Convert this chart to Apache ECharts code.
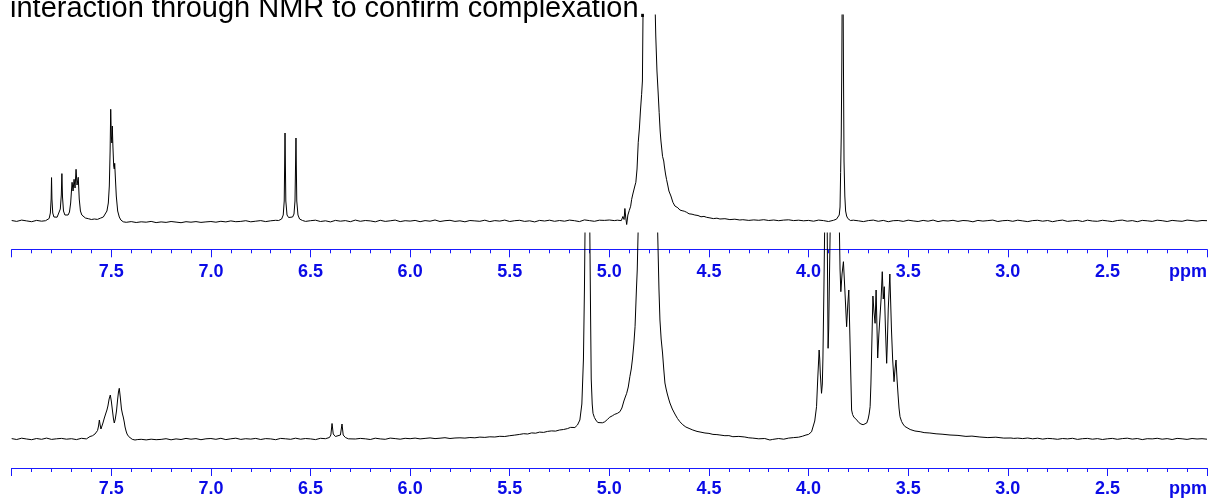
<!DOCTYPE html>
<html><head><meta charset="utf-8">
<script src="https://cdn.jsdelivr.net/npm/echarts@6/dist/echarts.min.js"></script>
<style>html,body{margin:0;padding:0;background:#fff;}#c{width:1210px;height:498px;}</style>
</head><body><div id="c"></div>
<script>
const titleText = 'interaction through NMR to confirm complexation.';
const axisUnit = 'ppm';
const ppmMin = 2, ppmMax = 8, ppmInterval = 0.5;
const noiseStep = 0.025;

// baseline noise (px above baseline) every 0.025 ppm from 8.0 down to 2.0
const topNoise = [
0.5,-0.4,0.9,0.1,-0.7,0.6,-0.2,0.8,-0.5,0.2,
-0.3,0.7,-0.6,0.4,0.9,-0.1,-0.8,0.5,0.3,-0.6,
0.4,-0.9,0.2,-1.3,-0.6,-1.5,-0.8,-1.2,-0.4,-1.6,
-0.9,-1.4,-0.5,-1.1,-1.7,-0.7,-1.2,-0.6,-1.4,-0.9,
-0.5,-1.2,-0.3,-0.9,0.1,-0.7,-0.4,0.3,-0.8,-0.2,
0.4,-0.6,0.2,0.7,-0.3,0.5,-0.5,0.1,0.6,-0.4,
0.3,0.8,-0.5,0.2,-0.9,0.6,-0.2,0.4,-0.7,0.9,
-0.3,0.5,0.1,-0.8,0.7,-0.4,0.2,0.9,-0.6,0.3,
-0.1,0.6,-0.7,0.4,-0.2,1.0,-0.5,0.3,0.7,-0.4,
0.2,-0.8,0.5,0.1,-0.3,0.8,-0.6,0.4,-0.1,0.9,
-0.5,0.3,0.7,-0.4,0.2,-0.9,0.6,0.0,0.8,-0.3,
0.5,-0.2,0.9,0.3,-0.6,1.1,0.4,-0.3,0.8,0.6,
1.0,0.4,-0.2,0.6,0.3,0.1,0.5,-0.4,0.2,0.7,
0.3,0.1,-0.2,0.4,0.6,0.2,-0.3,0.5,0.1,0.4,
0.2,0.6,0.9,1.2,0.8,1.5,0.9,1.3,0.6,1.1,
0.7,1.3,0.5,1.0,0.3,0.9,1.2,0.4,0.8,0.2,
0.6,-0.2,0.9,0.4,-0.5,0.7,0.1,0.5,-0.3,0.8,
0.2,-0.6,0.4,0.9,-0.3,0.6,-0.7,0.3,0.5,-0.4,
0.8,0.1,-0.5,0.6,-0.2,0.9,-0.6,0.4,0.0,0.7,
-0.4,0.5,0.2,-0.8,0.6,-0.1,0.4,0.9,-0.5,0.3,
0.6,-0.3,0.8,0.1,-0.6,0.4,0.7,-0.2,0.5,-0.7,
0.3,0.9,-0.4,0.2,0.6,-0.5,0.8,0.0,-0.3,0.7,
0.1,-0.6,0.5,0.9,-0.2,0.4,-0.7,0.6,0.2,-0.4,
0.8,0.3,-0.5,0.6,0.1,-0.3,0.9,0.4,-0.2,0.5,
0.3];

const bottomNoise = [
0.4,-0.5,0.8,0.0,-0.7,0.5,-0.3,0.9,-0.4,0.2,
0.6,-0.2,0.3,-0.6,0.7,0.1,-0.4,0.5,1.0,0.8,
0.3,0.1,-0.8,-1.2,-0.5,-1.0,-0.3,-0.9,-0.2,-0.7,
-0.4,0.3,-0.8,0.1,-0.5,0.6,-0.2,0.4,-0.7,0.2,
0.5,-0.3,0.7,-0.6,0.2,0.8,-0.4,0.3,-0.1,0.6,
-0.5,0.4,0.1,-0.7,0.6,0.2,-0.3,0.8,-0.2,0.5,
0.1,-0.6,0.7,0.3,0.5,0.2,0.4,-0.4,0.6,0.0,
0.6,0.2,-0.5,0.8,0.1,-0.3,0.9,0.4,-0.2,0.7,
0.3,0.9,0.1,0.6,1.1,0.4,0.8,1.3,0.5,1.0,
1.2,0.9,1.5,1.2,1.9,1.6,2.2,2.0,2.7,2.5,
3.3,3.9,7,7,7,7,7,7,7,7,
7,7,7,7,7,7,7,7,7,7,
7,7,7,7,7,7,7,7,7,7,
7,7,7,7,7,7,7,7,7,7,
7,7,7,7,7,7,7,7,7,7,
0,0,0,-0.6,0.5,-0.2,0.9,1.4,1.8,2.5,
7,7,7,7,7,7,7,7,7,7,
7,7,7,7,7,7,7,7,7,7,
7,7,7,7,7,7,7,7,7,7,
7,7,7,7,7,7,7,7,7,7,
0,0,0.9,0.4,1.0,0.2,0.8,-0.1,0.6,0.3,
-0.3,0.5,0.1,0.7,-0.4,0.3,0.6,-0.2,0.4,-0.5,
0.2,0.6,-0.3,0.4,0.8,-0.1,0.5,-0.6,0.3,0.1,
0.7,-0.2,0.4,-0.5,0.6,0.2,-0.4,0.5,0.0,0.3,
-0.2];

// peak regions [ppm, height above baseline]
const topAromatic = [[7.830,0.3],[7.820,1.2],[7.812,2.5],[7.806,8],[7.802,22],[7.800,43.4],[7.798,22],[7.794,8],[7.788,4],[7.780,3.2],[7.772,3.8],[7.764,5.5],[7.756,12],[7.751,26],[7.748,47.4],[7.745,24],[7.740,10],[7.733,6],[7.725,4.5],[7.717,6],[7.710,9],[7.704,18],[7.700,30],[7.697,38.7],[7.692,30],[7.687,41.7],[7.682,33],[7.677,51.7],[7.672,36],[7.666,43.7],[7.661,22],[7.655,10],[7.648,6],[7.640,4],[7.630,3],[7.615,2.3],[7.600,1.5],[7.585,2],[7.570,1.6],[7.555,2.8],[7.540,4],[7.530,6],[7.522,10],[7.515,18],[7.510,35],[7.506,70],[7.503,111.7],[7.500,85],[7.497,78],[7.495,95],[7.492,75],[7.488,55],[7.485,52],[7.483,57.7],[7.480,45],[7.475,25],[7.468,10],[7.460,4],[7.452,1],[7.440,-0.8]];
const topDoublet = [[6.660,0.5],[6.645,2],[6.637,6],[6.632,20],[6.628,88],[6.624,20],[6.618,6],[6.610,3.5],[6.600,3],[6.590,4],[6.583,7],[6.578,20],[6.573,83],[6.569,20],[6.563,6],[6.555,2],[6.540,0.5]];
const topWater = [[4.960,0.8],[4.950,2.0],[4.940,0.4],[4.932,4.5],[4.926,1.5],[4.922,12.5],[4.918,4],[4.913,-3.5],[4.907,6],[4.900,10.5],[4.893,14.8],[4.888,21.7],[4.882,27],[4.877,25],[4.872,35],[4.867,38.7],[4.861,52],[4.855,78.7],[4.849,93],[4.844,110],[4.838,126.7],[4.834,140],[4.830,230],[4.800,420],[4.772,230],[4.767,185],[4.761,150],[4.755,128],[4.750,108.7],[4.745,90],[4.741,80],[4.733,64.7],[4.727,60],[4.724,55],[4.718,47],[4.713,41.7],[4.707,36],[4.701,30],[4.696,28.5],[4.691,25],[4.686,24.5],[4.681,18.7],[4.676,20.5],[4.671,15],[4.666,14],[4.656,13.2],[4.646,11],[4.635,10.3],[4.624,9.8],[4.612,8.7],[4.600,7.2],[4.585,6.8],[4.571,6],[4.555,5.5],[4.540,4.2],[4.525,4.6],[4.512,3.7],[4.495,3.1],[4.478,2.4],[4.460,2.8],[4.445,2],[4.420,2.3],[4.395,1.4],[4.370,1.8],[4.345,1],[4.330,1.3]];
const topSinglet = [[3.870,0.8],[3.860,1.8],[3.852,3],[3.846,6],[3.842,14],[3.839,48.7],[3.836,85],[3.833,160],[3.829,320],[3.825,160],[3.822,60],[3.818,25],[3.814,10],[3.809,5],[3.803,2.5],[3.797,1.5],[3.790,0.5]];

const bottomAromatic = [[7.620,1.2],[7.607,2.5],[7.595,3.2],[7.582,5],[7.575,6],[7.569,8.5],[7.564,13],[7.560,19],[7.556,14],[7.552,10],[7.547,12],[7.542,16],[7.535,21],[7.527,26],[7.522,29],[7.517,33],[7.511,40],[7.505,44],[7.500,38],[7.494,28],[7.489,20],[7.485,16],[7.480,20],[7.474,28],[7.468,40],[7.464,47],[7.460,50.7],[7.455,42],[7.449,30],[7.444,25],[7.440,22],[7.435,17],[7.431,12],[7.426,8],[7.421,5],[7.413,2.5],[7.406,1],[7.395,-0.3],[7.381,-1],[7.370,-0.6]];
const bottomDoublet = [[6.420,0.3],[6.405,1.5],[6.398,4],[6.392,15.5],[6.386,5],[6.375,2.5],[6.365,2.5],[6.350,4],[6.342,15],[6.336,4],[6.325,1.5],[6.310,0.2]];
const bottomAnomericWater = [[5.450,4.6],[5.430,5.3],[5.410,5.0],[5.390,6.1],[5.370,5.8],[5.350,6.9],[5.330,6.6],[5.310,7.6],[5.290,8.1],[5.270,7.9],[5.250,9.0],[5.230,9.5],[5.210,10.4],[5.195,11.6],[5.185,12.4],[5.173,11.5],[5.160,14],[5.148,19],[5.138,35],[5.130,80],[5.125,150],[5.121,230],[5.110,500],[5.099,230],[5.094,120],[5.091,60],[5.086,35],[5.082,25.7],[5.075,21.5],[5.068,19],[5.058,16.5],[5.048,15.7],[5.035,16.2],[5.023,17.2],[5.010,19.5],[4.998,21.8],[4.985,23.2],[4.973,24.7],[4.960,25.6],[4.947,27.3],[4.937,31],[4.927,38],[4.920,42],[4.913,45.7],[4.905,52],[4.897,62.3],[4.890,70],[4.884,80],[4.877,95],[4.871,112.3],[4.864,150],[4.860,169],[4.853,230],[4.806,600],[4.760,230],[4.751,150],[4.746,119],[4.740,100],[4.733,86],[4.727,70],[4.721,56],[4.715,50],[4.709,45],[4.702,40],[4.696,36],[4.684,30],[4.671,25],[4.658,20.5],[4.646,17.3],[4.631,14.2],[4.616,12],[4.600,10.6],[4.581,9],[4.560,7.6],[4.540,6.8],[4.520,6],[4.500,5.6],[4.480,4.6],[4.460,4.4],[4.445,4],[4.420,3.3],[4.400,3.4],[4.380,2.3],[4.350,2.6],[4.320,2],[4.300,1.2],[4.280,0.9],[4.250,0.2],[4.220,0.5],[4.194,-1],[4.180,-0.4]];
const bottomSugar = [[4.030,2.8],[4.013,4],[4.000,4.6],[3.993,6],[3.985,7.2],[3.977,9],[3.969,18],[3.960,32.3],[3.954,60],[3.947,89],[3.944,80],[3.941,65],[3.935,45.7],[3.931,55],[3.928,80],[3.923,150],[3.918,230],[3.910,320],[3.906,200],[3.902,90.7],[3.899,110],[3.896,150],[3.890,230],[3.868,500],[3.847,230],[3.842,170],[3.838,147.3],[3.832,165],[3.825,177.3],[3.818,150],[3.809,112.3],[3.803,135],[3.798,149],[3.791,90],[3.784,29],[3.779,24.5],[3.773,22],[3.765,20.3],[3.758,19],[3.748,16.5],[3.737,15],[3.726,14.3],[3.716,14],[3.708,16],[3.701,20],[3.696,25],[3.691,32.3],[3.687,55],[3.683,90],[3.677,143],[3.672,128],[3.666,115.7],[3.661,149],[3.657,115],[3.653,81],[3.647,105],[3.641,124],[3.636,140],[3.630,167.3],[3.625,140],[3.620,152.3],[3.614,110],[3.608,75.7],[3.604,100],[3.600,130],[3.592,165],[3.584,110],[3.578,80],[3.571,57.3],[3.566,70],[3.561,79],[3.556,60],[3.551,45],[3.546,31],[3.541,22.3],[3.533,17.5],[3.526,15],[3.517,12.6],[3.508,10.7],[3.490,9.5],[3.466,8],[3.440,7.3],[3.420,6.4],[3.391,6],[3.360,5.2],[3.330,4.8],[3.290,4],[3.250,3.6],[3.210,2.6],[3.180,2.9],[3.140,2],[3.100,1.4],[3.060,1.8],[3.020,0.9],[2.984,1],[2.970,0.6]];

function buildSpectrum(noise, segments) {
  const ranges = segments.map(s => [s[s.length - 1][0], s[0][0]]);
  const pts = [];
  noise.forEach((v, i) => {
    const x = +(ppmMax - i * noiseStep).toFixed(3);
    if (!ranges.some(r => x >= r[0] && x <= r[1])) pts.push([x, v]);
  });
  segments.forEach(s => s.forEach(p => pts.push(p)));
  pts.sort((a, b) => b[0] - a[0]);
  return pts;
}
const topData = buildSpectrum(topNoise, [topAromatic, topDoublet, topWater, topSinglet]);
const bottomData = buildSpectrum(bottomNoise, [bottomAromatic, bottomDoublet, bottomAnomericWater, bottomSugar]);

const blue = '#1a1aff';
const labelBlue = '#0b0be6';
function xAxisFor(gi, margin) {
  return {
    type: 'value', gridIndex: gi, min: ppmMin, max: ppmMax, interval: ppmInterval, inverse: true,
    axisLine: { show: true, onZero: false, lineStyle: { color: blue, width: 1 } },
    axisTick: { show: true, length: 8, lineStyle: { color: blue, width: 1 } },
    minorTick: { show: true, splitNumber: 5, length: 4, lineStyle: { color: blue, width: 1 } },
    splitLine: { show: false }, minorSplitLine: { show: false },
    axisLabel: {
      margin: margin, color: labelBlue, fontFamily: 'Liberation Sans, Arial, sans-serif', fontWeight: 'bold', fontSize: 18,
      showMinLabel: true, showMaxLabel: true, alignMinLabel: 'right',
      formatter: v => (v === ppmMax ? '' : (v === ppmMin ? axisUnit : v.toFixed(1)))
    }
  };
}
const chart = echarts.init(document.getElementById('c'), null, { renderer: 'canvas' });
chart.setOption({
  animation: false,
  backgroundColor: '#fff',
  grid: [
    { left: 11.7, top: 15, width: 1195.3, height: 234.3 },
    { left: 11.7, top: 233, width: 1195.3, height: 235 }
  ],
  xAxis: [xAxisFor(0, 14), xAxisFor(1, 12)],
  yAxis: [
    { type: 'value', gridIndex: 0, min: -28.3, max: 206, show: false },
    { type: 'value', gridIndex: 1, min: -29, max: 206, show: false }
  ],
  series: [
    { type: 'line', xAxisIndex: 0, yAxisIndex: 0, data: topData, showSymbol: false, clip: true,
      lineStyle: { color: '#000', width: 1 }, silent: true },
    { type: 'line', xAxisIndex: 1, yAxisIndex: 1, data: bottomData, showSymbol: false, clip: true,
      lineStyle: { color: '#000', width: 1 }, silent: true }
  ],
  graphic: [{
    type: 'text', x: 10, y: 23,
    style: { text: titleText, font: '29px "Liberation Sans", Arial, sans-serif', fill: '#000', verticalAlign: 'bottom', align: 'left' }
  }]
});
</script></body></html>
